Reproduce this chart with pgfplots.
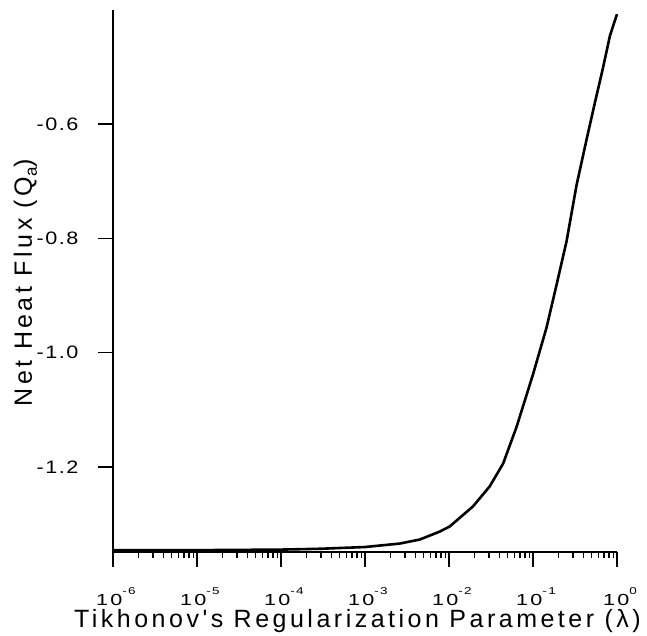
\documentclass[border=0pt]{standalone}
\usepackage{fontspec}
\setmainfont{Liberation Sans}
\newfontfamily\tickfont[LetterSpace=10]{Liberation Sans}
\newfontfamily\ytickfont[LetterSpace=7]{Liberation Sans}
\newfontfamily\labfont[LetterSpace=14]{Liberation Sans}
\usepackage{graphicx}
\usepackage{pgfplots}
\pgfplotsset{compat=1.18}
\newcommand{\xt}[1]{{\tickfont\fontsize{16}{18}\selectfont\scalebox{1.35}[1]{10\raisebox{11.5pt}{\fontsize{10}{12}\selectfont #1}}}}
\newcommand{\yt}[1]{{\ytickfont\fontsize{18}{20}\selectfont\scalebox{1.2}[1]{#1}}}
\begin{document}
\begin{tikzpicture}
\useasboundingbox (0,0) rectangle (647pt,636pt);
\begin{axis}[
  at={(113pt,84pt)}, anchor=south west,
  scale only axis, width=504pt, height=542pt,
  xmode=log, xmin=1e-6, xmax=1,
  ymin=-1.3487, ymax=-0.4006,
  axis x line=bottom, axis y line=left,
  axis line style={-, line width=1.8pt},
  tick align=outside,
  major tick length=15pt, minor tick length=6pt,
  every tick/.style={black, line width=1.6pt},
  every minor tick/.style={black, line width=1.3pt},
  xtick={1e-6,1e-5,1e-4,1e-3,1e-2,1e-1,1},
  xticklabels={\xt{-6},\xt{-5},\xt{-4},\xt{-3},\xt{-2},\xt{-1},\xt{0}},
  minor xtick={2e-6,3e-6,4e-6,5e-6,6e-6,7e-6,8e-6,9e-6,
               2e-5,3e-5,4e-5,5e-5,6e-5,7e-5,8e-5,9e-5,
               2e-4,3e-4,4e-4,5e-4,6e-4,7e-4,8e-4,9e-4,
               2e-3,3e-3,4e-3,5e-3,6e-3,7e-3,8e-3,9e-3,
               2e-2,3e-2,4e-2,5e-2,6e-2,7e-2,8e-2,9e-2,
               0.2,0.3,0.4,0.5,0.6,0.7,0.8,0.9},
  ytick={-1.2,-1.0,-0.8,-0.6},
  yticklabels={\yt{-1.2},\yt{-1.0},\yt{-0.8},\yt{-0.6}},
  minor ytick={},
  xticklabel style={anchor=base, yshift=-39pt, xshift=3pt},
  yticklabel style={xshift=-16pt},
  xlabel={\labfont\fontsize{25}{30}\selectfont Tikhonov's Regularization Parameter (λ)},
  ylabel={\labfont\fontsize{25}{30}\selectfont Net Heat Flux (Q\raisebox{-5pt}{\fontsize{17}{19}\selectfont a})},
  xlabel style={at={(axis description cs:0.485,-0.1402)}, anchor=base},
  ylabel style={at={(axis description cs:-0.161,0.497)}, anchor=base, rotate=0},
  clip=false,
]
\addplot[black, line width=2.6pt, line join=round] coordinates {
(1e-6,-1.3455) (1e-5,-1.3455) (1e-4,-1.3445) (3e-4,-1.343) (1e-3,-1.340)
(2.57e-3,-1.334) (4.47e-3,-1.327) (7.76e-3,-1.313) (1.02e-2,-1.304)
(1.93e-2,-1.269) (3.05e-2,-1.234) (4.41e-2,-1.194) (6.37e-2,-1.130)
(0.1005,-1.037) (0.145,-0.956) (0.191,-0.881) (0.251,-0.805)
(0.330,-0.707) (0.436,-0.626) (0.547,-0.562) (0.676,-0.504)
(0.826,-0.445) (1,-0.408)
};
\end{axis}
\end{tikzpicture}
\end{document}
